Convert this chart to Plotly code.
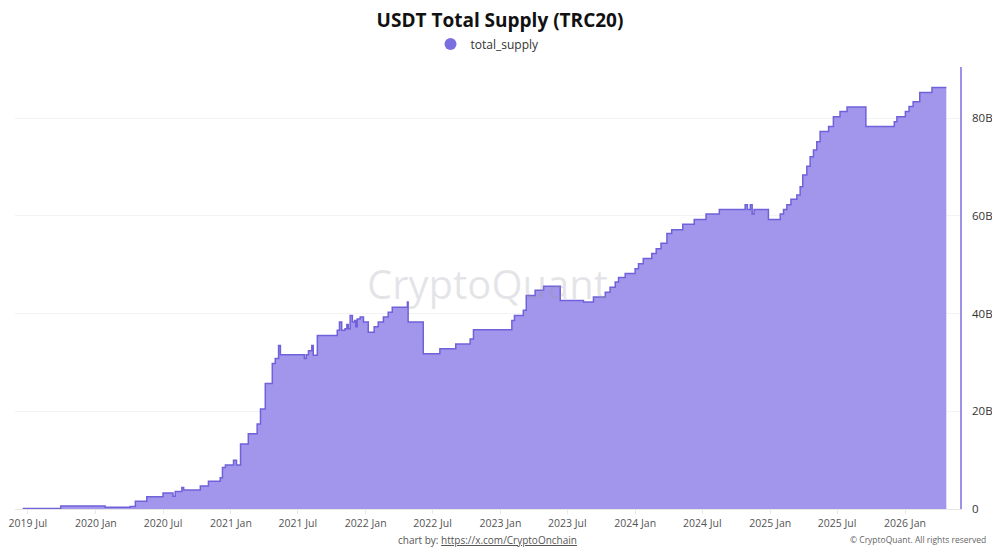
import plotly.graph_objects as go

# step points (date, total supply in billions)
dates = ["2019-06-17", "2019-09-28", "2020-01-26", "2020-04-03", "2020-04-17",
         "2020-05-18", "2020-07-01", "2020-07-28", "2020-08-03", "2020-08-21",
         "2020-08-26", "2020-10-10", "2020-11-01", "2020-12-03", "2020-12-09",
         "2020-12-17", "2021-01-08", "2021-01-16", "2021-01-27", "2021-02-17",
         "2021-03-13", "2021-03-22", "2021-04-04", "2021-04-23", "2021-05-01",
         "2021-05-10", "2021-05-15", "2021-07-19", "2021-07-24", "2021-07-30",
         "2021-08-08", "2021-08-12", "2021-08-23", "2021-10-16", "2021-10-22",
         "2021-10-28", "2021-11-06", "2021-11-11", "2021-11-15", "2021-11-20",
         "2021-11-26", "2021-12-02", "2021-12-05", "2021-12-09", "2021-12-17",
         "2021-12-26", "2022-01-08", "2022-01-24", "2022-02-04", "2022-02-18",
         "2022-03-03", "2022-03-14", "2022-04-24", "2022-04-26", "2022-06-06",
         "2022-07-21", "2022-09-02", "2022-10-11", "2022-10-20", "2023-02-01",
         "2023-02-08", "2023-03-04", "2023-03-12", "2023-04-05", "2023-04-28",
         "2023-06-12", "2023-08-14", "2023-09-10", "2023-10-12", "2023-10-25",
         "2023-11-08", "2023-11-17", "2023-12-05", "2024-01-01", "2024-01-10",
         "2024-01-23", "2024-02-15", "2024-02-27", "2024-03-11", "2024-03-27",
         "2024-04-09", "2024-05-09", "2024-06-09", "2024-07-11", "2024-08-16",
         "2024-10-25", "2024-10-31", "2024-11-08", "2024-11-13", "2024-11-18",
         "2024-12-27", "2025-01-28", "2025-02-06", "2025-02-15", "2025-02-26",
         "2025-03-14", "2025-03-23", "2025-03-30", "2025-04-10", "2025-04-19",
         "2025-04-28", "2025-05-07", "2025-05-16", "2025-06-08", "2025-06-21",
         "2025-07-09", "2025-07-28", "2025-09-17", "2025-12-03", "2025-12-10",
         "2026-01-02", "2026-01-12", "2026-01-23", "2026-02-10", "2026-03-15",
         "2026-04-23"]
supply = [0.1, 0.6, 0.35, 0.5, 1.6,
          2.5, 3.3, 2.6, 3.6, 4.4,
          3.9, 4.7, 5.7, 6.4, 8.5,
          9.0, 10.0, 9.0, 13.3, 15.4,
          17.4, 20.5, 25.7, 29.8, 30.8,
          33.5, 31.6, 30.8, 31.6, 32.4,
          33.5, 31.5, 35.5, 36.6, 38.3,
          36.6, 36.9, 37.8, 36.9, 39.6,
          38.3, 38.6, 37.3, 38.9, 39.3,
          38.3, 36.2, 37.3, 38.3, 39.3,
          40.3, 41.3, 42.4, 38.3, 31.8,
          32.8, 33.8, 34.8, 36.7, 38.6,
          39.6, 40.7, 43.7, 44.8, 45.6,
          42.7, 42.4, 43.4, 44.4, 45.4,
          46.5, 47.4, 48.2, 49.2, 50.2,
          51.3, 52.3, 53.3, 54.4, 56.4,
          57.2, 58.3, 59.3, 60.4, 61.3,
          62.3, 61.3, 62.3, 60.4, 61.3,
          59.3, 60.4, 61.3, 62.3, 63.4,
          64.3, 66.0, 68.4, 70.2, 72.1,
          73.5, 75.2, 77.3, 78.3, 80.3,
          81.4, 82.3, 78.3, 79.3, 80.3,
          81.4, 82.4, 83.4, 85.3, 86.3,
          86.3]

tick_dates = ["2019-07-01", "2020-01-01", "2020-07-01", "2021-01-01", "2021-07-01",
              "2022-01-01", "2022-07-01", "2023-01-01", "2023-07-01", "2024-01-01",
              "2024-07-01", "2025-01-01", "2025-07-01", "2026-01-01"]
tick_text = ["2019 Jul", "2020 Jan", "2020 Jul", "2021 Jan", "2021 Jul",
             "2022 Jan", "2022 Jul", "2023 Jan", "2023 Jul", "2024 Jan",
             "2024 Jul", "2025 Jan", "2025 Jul", "2026 Jan"]
y_ticks = [0, 20, 40, 60, 80]
y_text = ["0", "20B", "40B", "60B", "80B"]

purple = "#7b6fe0"

fig = go.Figure()
fig.add_trace(go.Scatter(x=dates, y=supply, mode="lines", line_shape="hv",
                         line=dict(color="#6f62d9", width=1.5),
                         fill="tozeroy", fillcolor="#a196ec",
                         showlegend=False, hoverinfo="skip"))
# legend entry with round marker
fig.add_trace(go.Scatter(x=[None], y=[None], mode="markers", name="total_supply",
                         marker=dict(color=purple, size=13, symbol="circle")))

# page body has an 8px margin, so the figure is sized to fit inside it
fig.update_layout(
    width=984, height=539,
    paper_bgcolor="white", plot_bgcolor="white",
    margin=dict(l=7, r=32, t=59, b=38),
    font=dict(family="Open Sans, Noto Sans, sans-serif", color="#333"),
    title=dict(text="<b>USDT Total Supply (TRC20)</b>", x=0.5, xanchor="center",
               y=0.978, yanchor="middle", font=dict(size=19, color="#111")),
    legend=dict(orientation="h", x=0.5, xanchor="center", y=1.052, yanchor="middle",
                xref="paper", yref="paper", font=dict(size=12, color="#333"),
                itemsizing="constant"),
    annotations=[
        dict(text="CryptoQuant", x=0.5, y=0.51, xref="paper", yref="paper",
             showarrow=False, font=dict(size=40, color="rgba(150,150,165,0.25)")),
        dict(text="chart by: <u>https://x.com/CryptoOnchain</u>", x=0.5, y=-0.07,
             xref="paper", yref="paper", yanchor="middle", showarrow=False,
             font=dict(size=10, color="#555")),
        dict(text="© CryptoQuant. All rights reserved", x=1.03, y=-0.07,
             xref="paper", yref="paper", xanchor="right", yanchor="middle",
             showarrow=False, font=dict(size=8.5, color="#666")),
    ],
)

fig.update_xaxes(type="date", range=["2019-05-27", "2026-05-30"], automargin=False,
                 tickvals=tick_dates, ticktext=tick_text,
                 tickfont=dict(size=10.5, color="#555"), ticklabeloverflow="allow",
                 showgrid=False, showline=True, linecolor="#e6e6e6",
                 ticks="outside", ticklen=4, tickcolor="#e6e6e6", zeroline=False)
fig.update_yaxes(side="right", range=[0, 90.5], automargin=False,
                 tickvals=y_ticks, ticktext=y_text,
                 tickfont=dict(size=11.5, color="#333"), ticklabeloverflow="allow",
                 showgrid=True, gridcolor="#f3f3f3", zeroline=False,
                 showline=True, linecolor="#9d93e6", linewidth=1.5,
                 ticks="", ticklabelstandoff=8)

fig.write_html("out.html")
